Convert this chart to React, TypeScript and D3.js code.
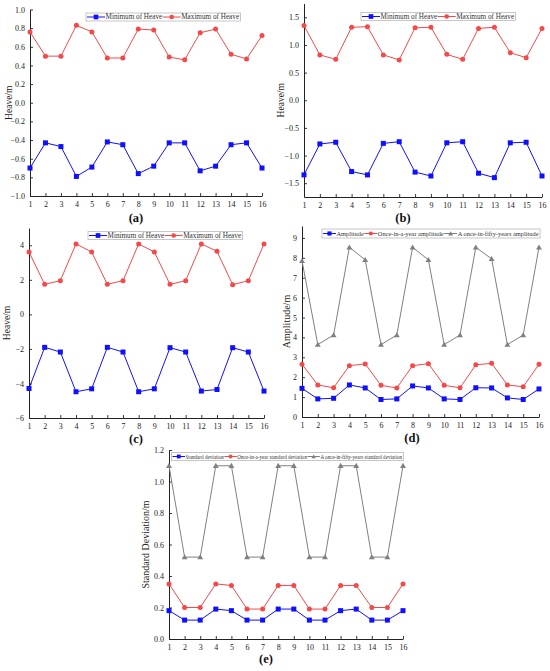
import * as d3 from 'd3'
import React, { useEffect, useRef } from 'react'

// sea states 1..16
const cases = [1, 2, 3, 4, 5, 6, 7, 8, 9, 10, 11, 12, 13, 14, 15, 16]

// (a)
const minHeaveA = [-0.7, -0.43, -0.47, -0.79, -0.69, -0.42, -0.45, -0.76, -0.68, -0.43, -0.43, -0.73, -0.68, -0.45, -0.43, -0.7]
const maxHeaveA = [0.76, 0.5, 0.5, 0.83, 0.76, 0.48, 0.48, 0.79, 0.78, 0.49, 0.46, 0.75, 0.79, 0.52, 0.47, 0.72]
const ticksA = [-1, -0.8, -0.6, -0.4, -0.2, 0, 0.2, 0.4, 0.6, 0.8, 1]

// (b)
const minHeaveB = [-1.35, -0.79, -0.76, -1.29, -1.35, -0.78, -0.75, -1.3, -1.37, -0.77, -0.75, -1.32, -1.4, -0.77, -0.76, -1.37]
const maxHeaveB = [1.35, 0.82, 0.74, 1.32, 1.33, 0.82, 0.73, 1.31, 1.32, 0.83, 0.74, 1.3, 1.32, 0.86, 0.77, 1.3]
const ticksB = [-1.5, -1, -0.5, 0, 0.5, 1, 1.5]

// (c)
const minHeaveC = [-4.29, -1.91, -2.18, -4.48, -4.31, -1.91, -2.18, -4.48, -4.31, -1.93, -2.18, -4.44, -4.35, -1.93, -2.18, -4.44]
const maxHeaveC = [3.61, 1.74, 1.95, 4.08, 3.61, 1.74, 1.95, 4.08, 3.61, 1.74, 1.95, 4.08, 3.65, 1.72, 1.95, 4.08]
const ticksC = [-6, -4, -2, 0, 2, 4]

// (d)
const amplitude = [1.44, 0.91, 0.94, 1.61, 1.46, 0.88, 0.91, 1.56, 1.46, 0.91, 0.88, 1.47, 1.46, 0.96, 0.88, 1.41]
const ampYear = [2.65, 1.61, 1.47, 2.58, 2.67, 1.59, 1.46, 2.58, 2.68, 1.59, 1.47, 2.62, 2.7, 1.61, 1.52, 2.65]
const ampFifty = [7.85, 3.64, 4.12, 8.53, 7.9, 3.64, 4.12, 8.53, 7.9, 3.64, 4.12, 8.53, 7.95, 3.64, 4.12, 8.53]
const ticksD = [0, 1, 2, 3, 4, 5, 6, 7, 8, 9]

// (e)
const stdDev = [0.18, 0.12, 0.12, 0.19, 0.18, 0.12, 0.12, 0.19, 0.19, 0.12, 0.12, 0.18, 0.19, 0.12, 0.12, 0.18]
const stdYear = [0.35, 0.2, 0.2, 0.35, 0.34, 0.19, 0.19, 0.34, 0.34, 0.19, 0.19, 0.34, 0.34, 0.2, 0.2, 0.35]
const stdFifty = [1.1, 0.52, 0.52, 1.1, 1.1, 0.52, 0.52, 1.1, 1.1, 0.52, 0.52, 1.1, 1.1, 0.52, 0.52, 1.1]
const ticksE = [0, 0.2, 0.4, 0.6, 0.8, 1, 1.2]

const BLUE = '#1010ff'
const RED = '#f24a4a'
const GRAY = '#808080'
const FONT = '"Liberation Serif", "Times New Roman", serif'

const panels = [
    {
        label: '(a)', labelX: 136, labelY: 222,
        box: { left: 30, right: 262, top: 9.5, bottom: 196 },
        domain: [-1, 1], ticks: ticksA, fmt: '.1f', title: 'Heave/m', titleX: 10, titleSize: 9.5,
        legend: { x: 86, y: 13, h: 8, font: 7.2, sample: 18 },
        series: [
            { name: 'Minimum of Heave', values: minHeaveA, color: BLUE, shape: 'square' },
            { name: 'Maximum of Heave', values: maxHeaveA, color: RED, shape: 'circle' },
        ],
    },
    {
        label: '(b)', labelX: 403, labelY: 222,
        box: { left: 304, right: 542, top: 3.5, bottom: 197 },
        domain: [-1.75, 1.75], ticks: ticksB, fmt: '.1f', title: 'Heave/m', titleX: 282, titleSize: 9.5,
        legend: { x: 361, y: 12.5, h: 8, font: 7.2, sample: 18 },
        series: [
            { name: 'Minimum of Heave', values: minHeaveB, color: BLUE, shape: 'square' },
            { name: 'Maximum of Heave', values: maxHeaveB, color: RED, shape: 'circle' },
        ],
    },
    {
        label: '(c)', labelX: 136, labelY: 443,
        box: { left: 29, right: 264, top: 228, bottom: 418 },
        domain: [-6, 5], ticks: ticksC, fmt: 'd', title: 'Heave/m', titleX: 8, titleSize: 9.5,
        legend: { x: 88, y: 231.5, h: 8, font: 7.2, sample: 18 },
        series: [
            { name: 'Minimum of Heave', values: minHeaveC, color: BLUE, shape: 'square' },
            { name: 'Maximum of Heave', values: maxHeaveC, color: RED, shape: 'circle' },
        ],
    },
    {
        label: '(d)', labelX: 412, labelY: 442,
        box: { left: 302, right: 539, top: 226, bottom: 417 },
        domain: [0, 9.6], ticks: ticksD, fmt: 'd', title: 'Amplitude/m', titleX: 288, titleSize: 10,
        legend: { x: 322, y: 229, h: 9, font: 6.4, sample: 13 },
        series: [
            { name: 'Amplitude', values: amplitude, color: BLUE, shape: 'square' },
            { name: 'Once-in-a-year amplitude', values: ampYear, color: RED, shape: 'circle' },
            { name: 'A once-in-fifty-years amplitude', values: ampFifty, color: GRAY, shape: 'triangle' },
        ],
    },
    {
        label: '(e)', labelX: 266, labelY: 663,
        box: { left: 169, right: 403, top: 450, bottom: 639 },
        domain: [0, 1.2], ticks: ticksE, fmt: '.1f', title: 'Standard Deviation/m', titleX: 147, titleSize: 10,
        legend: { x: 171.5, y: 452.5, h: 8, font: 5.1, sample: 12.5 },
        series: [
            { name: 'Standard deviation', values: stdDev, color: BLUE, shape: 'square' },
            { name: 'Once-in-a-year standard deviation', values: stdYear, color: RED, shape: 'circle' },
            { name: 'A once-in-fifty-years standard deviation', values: stdFifty, color: GRAY, shape: 'triangle' },
        ],
    },
]

function drawMarker(g, shape, color, x, y, size) {
    if (shape === 'square') {
        g.append('rect')
            .attr('x', x - size / 2)
            .attr('y', y - size / 2)
            .attr('width', size)
            .attr('height', size)
            .attr('fill', color)
    } else if (shape === 'circle') {
        g.append('circle').attr('cx', x).attr('cy', y).attr('r', size / 2).attr('fill', color)
    } else {
        const sym = d3.symbol().type(d3.symbolTriangle).size(size * size * 0.6)
        g.append('path')
            .attr('d', sym())
            .attr('transform', `translate(${x},${y + 0.5})`)
            .attr('fill', color)
    }
}

const App = (): JSX.Element => {
    const ref = useRef<SVGSVGElement>(null)

    useEffect(() => {
        const svg = d3.select(ref.current)
        svg.selectAll('*').remove()

        panels.forEach((p) => {
            const { box } = p
            const g = svg.append('g')

            const x = d3.scaleLinear().domain([1, 16]).range([box.left, box.right])
            const y = d3.scaleLinear().domain(p.domain).range([box.bottom, box.top])
            const fmt = d3.format(p.fmt)

            // bottom axis, ticks pointing inward
            const xAxis = d3.axisBottom(x).tickValues(cases).tickSizeInner(-3).tickSizeOuter(0).tickPadding(5)
            const gx = g.append('g').attr('transform', `translate(0,${box.bottom})`).call(xAxis)
            // left axis, ticks pointing inward
            const yAxis = d3.axisLeft(y).tickValues(p.ticks).tickFormat(fmt).tickSizeInner(-3).tickSizeOuter(0).tickPadding(5)
            const gy = g.append('g').attr('transform', `translate(${box.left},0)`).call(yAxis)

            ;[gx, gy].forEach((ax) => {
                ax.select('.domain').attr('stroke', '#222').attr('stroke-width', 1)
                ax.selectAll('.tick line').attr('stroke', '#222').attr('stroke-width', 0.9)
                ax.selectAll('.tick text')
                    .attr('font-family', FONT)
                    .attr('font-size', 8)
                    .attr('fill', '#222')
            })

            // y title
            g.append('text')
                .attr('transform', `translate(${p.titleX},${(box.top + box.bottom) / 2}) rotate(-90)`)
                .attr('text-anchor', 'middle')
                .attr('dominant-baseline', 'middle')
                .attr('font-family', FONT)
                .attr('font-size', p.titleSize)
                .attr('fill', '#222')
                .text(p.title)

            // series
            const line = d3
                .line<number>()
                .x((d, i) => x(cases[i]))
                .y((d) => y(d))

            p.series.forEach((s) => {
                g.append('path')
                    .attr('d', line(s.values))
                    .attr('fill', 'none')
                    .attr('stroke', s.color)
                    .attr('stroke-width', 1)
                const mg = g.append('g')
                s.values.forEach((v, i) => drawMarker(mg, s.shape, s.color, x(cases[i]), y(v), 5))
            })

            // legend
            const lg = g.append('g')
            const frame = lg.append('rect')
            let cx = p.legend.x + 1
            const cy = p.legend.y + p.legend.h / 2
            p.series.forEach((s) => {
                lg.append('line')
                    .attr('x1', cx)
                    .attr('x2', cx + p.legend.sample)
                    .attr('y1', cy)
                    .attr('y2', cy)
                    .attr('stroke', s.color)
                    .attr('stroke-width', 1)
                drawMarker(lg, s.shape, s.color, cx + p.legend.sample / 2, cy, Math.max(p.legend.font * 0.65, 3.8))
                cx += p.legend.sample + 0.5
                const t = lg
                    .append('text')
                    .attr('x', cx)
                    .attr('y', cy)
                    .attr('dominant-baseline', 'central')
                    .attr('font-family', FONT)
                    .attr('font-size', p.legend.font)
                    .attr('fill', '#333')
                    .text(s.name)
                cx += (t.node() as SVGTextElement).getComputedTextLength() + 0.5
            })
            frame
                .attr('x', p.legend.x)
                .attr('y', p.legend.y)
                .attr('width', cx - p.legend.x + 1)
                .attr('height', p.legend.h)
                .attr('fill', 'white')
                .attr('stroke', '#b8b8b8')
                .attr('stroke-width', 0.8)

            // panel label
            g.append('text')
                .attr('x', p.labelX)
                .attr('y', p.labelY)
                .attr('text-anchor', 'middle')
                .attr('font-family', FONT)
                .attr('font-size', 12.5)
                .attr('font-weight', 'bold')
                .attr('fill', '#111')
                .text(p.label)
        })
    }, [])

    return (
        <svg
            ref={ref}
            width={550}
            height={671}
            style={{ position: 'absolute', left: 0, top: 0, background: 'white' }}
        />
    )
}

export default App
